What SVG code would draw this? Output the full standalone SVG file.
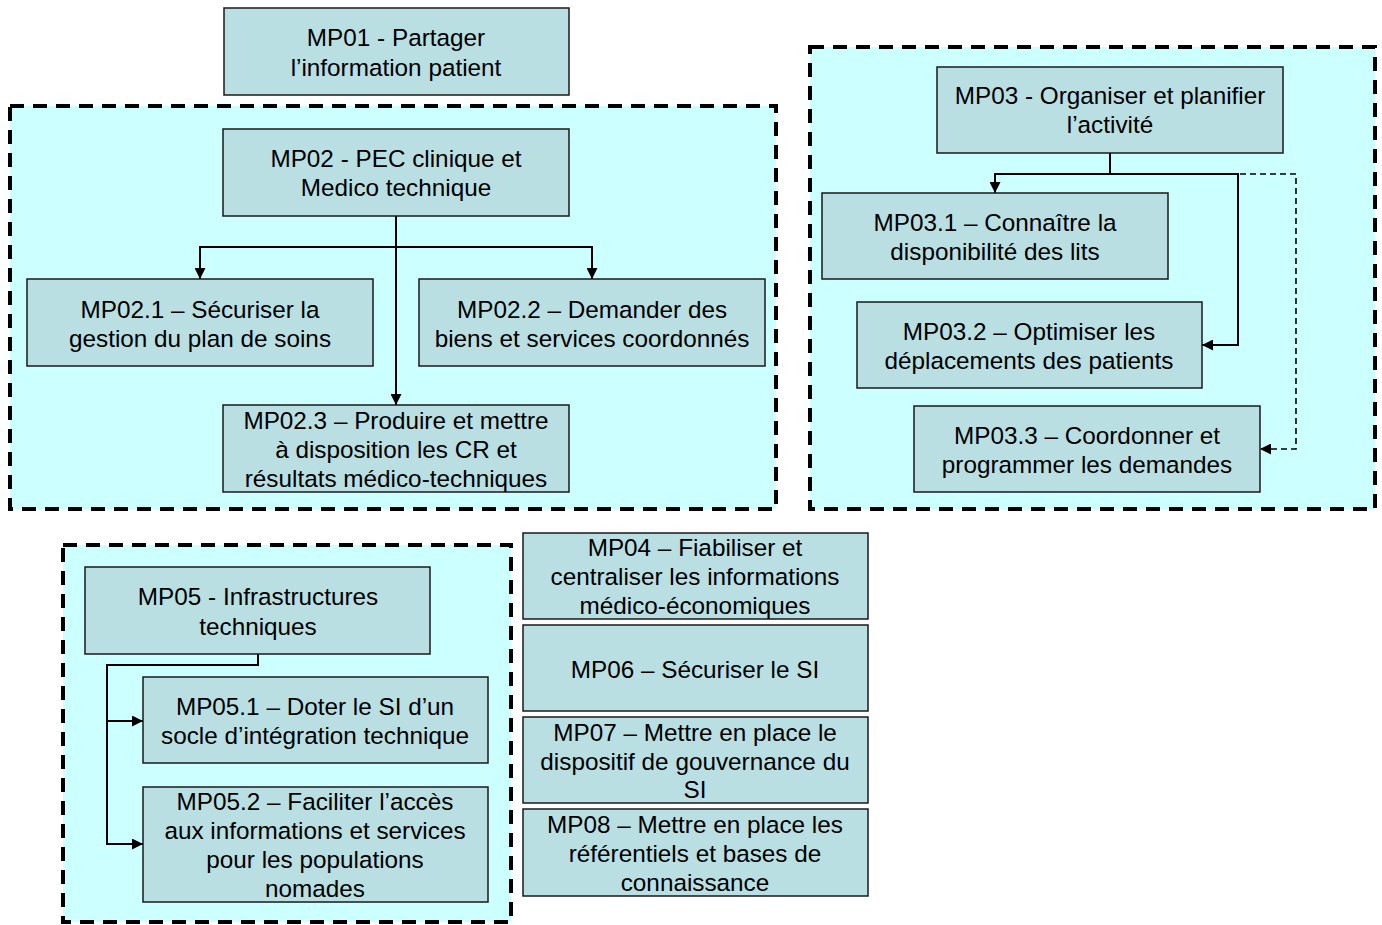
<svg xmlns="http://www.w3.org/2000/svg" width="1382" height="925" viewBox="0 0 1382 925">
  <style>
    .grp { fill: #CCFFFF; stroke: #000; stroke-width: 4; stroke-dasharray: 14 9; }
    .box { fill: #BADFE2; stroke: #1a1a1a; stroke-width: 1.5; }
    .lbl { font-family: "Liberation Sans", Arial, sans-serif; font-size: 24.3px; fill: #000; text-anchor: middle; }
    .link { fill: none; stroke: #000; stroke-width: 2; }
    .dash { stroke-dasharray: 6 4; stroke-width: 1.6; }
  </style>
  <defs>
    <marker id="arrow" viewBox="0 0 10 10" refX="10" refY="5" markerWidth="11" markerHeight="11" markerUnits="userSpaceOnUse" orient="auto">
      <path d="M0,0 L10,5 L0,10 Z" fill="#000"/>
    </marker>
  </defs>

  <rect width="1382" height="925" fill="#fff"/>

  <!-- dashed grouping frames -->
  <g id="groups">
    <rect class="grp" x="10" y="106" width="766" height="403"/>
    <rect class="grp" x="810" y="47" width="565" height="462"/>
    <rect class="grp" x="63" y="545" width="448" height="377"/>
  </g>

  <!-- connectors -->
  <g id="connectors">
    <!-- MP02 to sub-processes -->
    <path class="link" d="M396,216 V405" marker-end="url(#arrow)"/>
    <path class="link" d="M396,247 H200 V279" marker-end="url(#arrow)"/>
    <path class="link" d="M396,247 H592 V279" marker-end="url(#arrow)"/>
    <!-- MP03 to sub-processes -->
    <path class="link dash" d="M1110,174 H1296 V449 H1260" marker-end="url(#arrow)"/>
    <path class="link" d="M1110,153 V174 H995 V193" marker-end="url(#arrow)"/>
    <path class="link" d="M1110,174 H1238 V345 H1202" marker-end="url(#arrow)"/>
    <!-- MP05 to sub-processes -->
    <path class="link" d="M258,654 V665 H107 V721 H143" marker-end="url(#arrow)"/>
    <path class="link" d="M107,721 V844 H143" marker-end="url(#arrow)"/>
  </g>

  <g id="mp01">
    <rect class="box" x="224" y="8" width="345" height="87"/>
    <text class="lbl" x="396" y="46">MP01 - Partager</text>
    <text class="lbl" x="396" y="76">l’information patient</text>
  </g>

  <g id="mp02">
    <rect class="box" x="223" y="129" width="346" height="87"/>
    <text class="lbl" x="396" y="167">MP02 - PEC clinique et</text>
    <text class="lbl" x="396" y="196">Medico technique</text>
  </g>

  <g id="mp02-1">
    <rect class="box" x="27" y="279" width="346" height="87"/>
    <text class="lbl" x="200" y="318">MP02.1 – Sécuriser la</text>
    <text class="lbl" x="200" y="347">gestion du plan de soins</text>
  </g>

  <g id="mp02-2">
    <rect class="box" x="419" y="279" width="346" height="87"/>
    <text class="lbl" x="592" y="318">MP02.2 – Demander des</text>
    <text class="lbl" x="592" y="347">biens et services coordonnés</text>
  </g>

  <g id="mp02-3">
    <rect class="box" x="223" y="405" width="346" height="87"/>
    <text class="lbl" x="396" y="429">MP02.3 – Produire et mettre</text>
    <text class="lbl" x="396" y="458">à disposition les CR et</text>
    <text class="lbl" x="396" y="487">résultats médico-techniques</text>
  </g>

  <g id="mp03">
    <rect class="box" x="937" y="67" width="346" height="86"/>
    <text class="lbl" x="1110" y="104">MP03 - Organiser et planifier</text>
    <text class="lbl" x="1110" y="133">l’activité</text>
  </g>

  <g id="mp03-1">
    <rect class="box" x="822" y="193" width="346" height="86"/>
    <text class="lbl" x="995" y="231">MP03.1 – Connaître la</text>
    <text class="lbl" x="995" y="260">disponibilité des lits</text>
  </g>

  <g id="mp03-2">
    <rect class="box" x="857" y="302" width="345" height="86"/>
    <text class="lbl" x="1029" y="340">MP03.2 – Optimiser les</text>
    <text class="lbl" x="1029" y="369">déplacements des patients</text>
  </g>

  <g id="mp03-3">
    <rect class="box" x="914" y="406" width="346" height="86"/>
    <text class="lbl" x="1087" y="444">MP03.3 – Coordonner et</text>
    <text class="lbl" x="1087" y="473">programmer les demandes</text>
  </g>

  <g id="mp05">
    <rect class="box" x="85" y="567" width="345" height="87"/>
    <text class="lbl" x="258" y="605">MP05 - Infrastructures</text>
    <text class="lbl" x="258" y="635">techniques</text>
  </g>

  <g id="mp05-1">
    <rect class="box" x="143" y="677" width="345" height="86"/>
    <text class="lbl" x="315" y="715">MP05.1 – Doter le SI d’un</text>
    <text class="lbl" x="315" y="744">socle d’intégration technique</text>
  </g>

  <g id="mp05-2">
    <rect class="box" x="143" y="787" width="345" height="115"/>
    <text class="lbl" x="315" y="810">MP05.2 – Faciliter l’accès</text>
    <text class="lbl" x="315" y="839">aux informations et services</text>
    <text class="lbl" x="315" y="868">pour les populations</text>
    <text class="lbl" x="315" y="897">nomades</text>
  </g>

  <g id="mp04">
    <rect class="box" x="523" y="533" width="345" height="86"/>
    <text class="lbl" x="695" y="556">MP04 – Fiabiliser et</text>
    <text class="lbl" x="695" y="585">centraliser les informations</text>
    <text class="lbl" x="695" y="614">médico-économiques</text>
  </g>

  <g id="mp06">
    <rect class="box" x="523" y="625" width="345" height="86"/>
    <text class="lbl" x="695" y="678">MP06 – Sécuriser le SI</text>
  </g>

  <g id="mp07">
    <rect class="box" x="523" y="717" width="345" height="86"/>
    <text class="lbl" x="695" y="741">MP07 – Mettre en place le</text>
    <text class="lbl" x="695" y="770">dispositif de gouvernance du</text>
    <text class="lbl" x="695" y="798">SI</text>
  </g>

  <g id="mp08">
    <rect class="box" x="523" y="809" width="345" height="87"/>
    <text class="lbl" x="695" y="833">MP08 – Mettre en place les</text>
    <text class="lbl" x="695" y="862">référentiels et bases de</text>
    <text class="lbl" x="695" y="891">connaissance</text>
  </g>
</svg>
